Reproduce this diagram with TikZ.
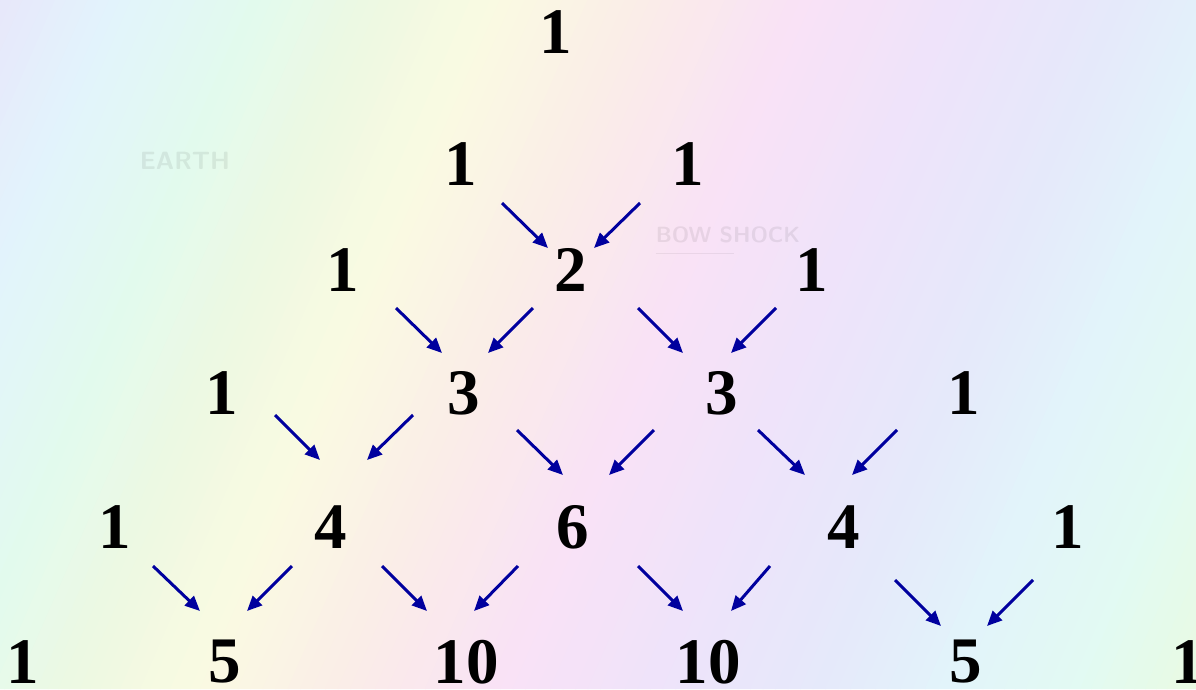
\documentclass[tikz,border=0pt]{standalone}
\usepackage{fontspec}
\setmainfont{Liberation Serif}
\usetikzlibrary{arrows.meta,calc}
\definecolor{arrowblue}{HTML}{00009E}
\definecolor{bgA}{HTML}{E8E6FA}
\definecolor{bgB}{HTML}{E2F4FC}
\definecolor{bgC}{HTML}{E2FAEE}
\definecolor{bgD}{HTML}{EEF9E2}
\definecolor{bgE}{HTML}{FAFAE2}
\definecolor{bgF}{HTML}{FAECE8}
\definecolor{bgG}{HTML}{F9E2F6}
\definecolor{bgH}{HTML}{EFE3FA}
\definecolor{bgI}{HTML}{E6E8FA}
\definecolor{bgJ}{HTML}{E2F4FA}
\definecolor{bgK}{HTML}{E2FAF2}
\definecolor{bgL}{HTML}{EAFAE0}
\tikzset{
  num/.style={inner sep=0pt, font=\fontsize{65}{78}\selectfont\bfseries, text=black},
  arr/.style={draw=arrowblue, line width=3pt, -{Triangle[length=15pt,width=13pt]}},
  wm/.style={inner sep=0pt, text=black, opacity=0.07}
}
\newcommand\parr[4]{\draw[arr] ($(#1)+(#2)$) -- ($(#3)+(#4)$);}
\begin{document}
\begin{tikzpicture}[x=1pt,y=-1pt]
\useasboundingbox (0,0) rectangle (1196,689);
% background gradient in tilted bands
\begin{scope}
\clip (0,0) rectangle (1196,689);
\foreach \sa/\sb/\ca/\cb in {-10/120/bgA/bgB,120/250/bgB/bgC,250/380/bgC/bgD,380/500/bgD/bgE,500/650/bgE/bgF,650/800/bgF/bgG,800/950/bgG/bgH,950/1100/bgH/bgI,1100/1250/bgI/bgJ,1250/1380/bgJ/bgK,1380/1510/bgK/bgL}{
  \foreach \i in {0,...,11}{
    \pgfmathsetmacro\xa{\sa+(\sb-\sa)*\i/12}
    \pgfmathsetmacro\xb{\sa+(\sb-\sa)*(\i+1)/12+1}
    \pgfmathtruncatemacro\t{100*(\i+0.5)/12}
    \fill[\cb!\t!\ca] (\xa,0) -- (\xb,0) -- (\xb-300,689) -- (\xa-300,689) -- cycle;
  }
}
% faint watermark texts of the background picture
\node[wm, font=\sffamily\bfseries\fontsize{25}{30}\selectfont] (wmearth) at (185,161) {EARTH};
\node[wm, font=\sffamily\bfseries\fontsize{22}{26}\selectfont] (wmbow) at (728,235) {BOW SHOCK};
\draw[black, opacity=0.06, line width=1.5pt] (wmbow.south west) ++(0,10) coordinate (ula) -- ++(78,0) coordinate (ulb);
\end{scope}
% numbers
\node[num] (n00) at (556,32) {1};
\node[num] (n10) at (461,164) {1};
\node[num] (n11) at (688,164) {1};
\node[num] (n20) at (343,270) {1};
\node[num] (n21) at (571,270) {2};
\node[num] (n22) at (812,270) {1};
\node[num] (n30) at (222,393) {1};
\node[num] (n31) at (464,393) {3};
\node[num] (n32) at (722,393) {3};
\node[num] (n33) at (964,393) {1};
\node[num] (n40) at (115,527) {1};
\node[num] (n41) at (331,527) {4};
\node[num] (n42) at (573,527) {6};
\node[num] (n43) at (844,527) {4};
\node[num] (n44) at (1068,527) {1};
\node[num] (n50) at (23,662) {1};
\node[num] (n51) at (225,662) {5};
\node[num] (n52) at (466,662) {10};
\node[num] (n53) at (708,662) {10};
\node[num] (n54) at (966,662) {5};
\node[num] (n55) at (1188,662) {1};
% arrows
\parr{n10}{41,39}{n21}{-23,-22}
\parr{n11}{-48,39}{n21}{23,-22}
\parr{n20}{53,38}{n31}{-22,-40}
\parr{n21}{-38,38}{n31}{24,-40}
\parr{n21}{67,38}{n32}{-39,-40}
\parr{n22}{-36,38}{n32}{9,-40}
\parr{n30}{53,22}{n41}{-11,-67}
\parr{n31}{-51,22}{n41}{36,-67}
\parr{n31}{53,37}{n42}{-10,-52}
\parr{n32}{-68,37}{n42}{36,-52}
\parr{n32}{36,37}{n43}{-39,-52}
\parr{n33}{-67,37}{n43}{8,-52}
\parr{n40}{38,39}{n51}{-25,-51}
\parr{n41}{-39,39}{n51}{22,-51}
\parr{n41}{51,39}{n52}{-39,-51}
\parr{n42}{-55,39}{n52}{8,-51}
\parr{n42}{65,39}{n53}{-25,-51}
\parr{n43}{-74,39}{n53}{23,-51}
\parr{n43}{51,53}{n54}{-25,-36}
\parr{n44}{-35,53}{n54}{21,-36}
\end{tikzpicture}
\end{document}
